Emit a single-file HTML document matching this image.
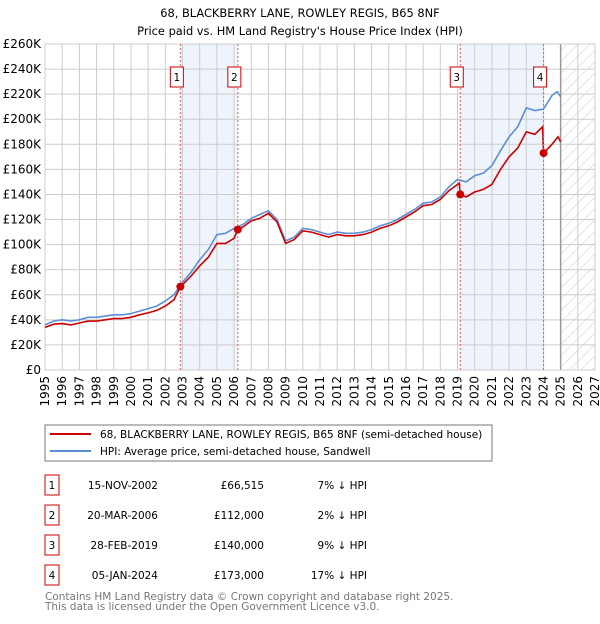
<!DOCTYPE html>
<html><head><meta charset="utf-8"><style>
body{margin:0;background:#fff;font-family:"DejaVu Sans","Liberation Sans",sans-serif;}
svg text{font-family:"DejaVu Sans","Liberation Sans",sans-serif;}
</style></head><body>
<svg id="chart" width="600" height="620" xmlns="http://www.w3.org/2000/svg">
<defs><pattern id="hatch" width="8" height="8" patternUnits="userSpaceOnUse" patternTransform="rotate(45)"><line x1="0" y1="0" x2="0" y2="8" stroke="#ccc" stroke-width="1"/></pattern></defs>
<text x="300" y="17" text-anchor="middle" font-size="11.4">68, BLACKBERRY LANE, ROWLEY REGIS, B65 8NF</text>
<text x="300" y="35" text-anchor="middle" font-size="11.4">Price paid vs. HM Land Registry's House Price Index (HPI)</text>
<g id="shades"></g><g id="grid"></g><g id="axes"></g><g id="series"></g><g id="markers"></g>
<rect x="45" y="425" width="447" height="36" fill="#fff" stroke="#777"/>
<line x1="50" y1="434" x2="91" y2="434" stroke="#cc0000" stroke-width="2"/>
<text x="100" y="438" font-size="10.5">68, BLACKBERRY LANE, ROWLEY REGIS, B65 8NF (semi-detached house)</text>
<line x1="50" y1="451" x2="91" y2="451" stroke="#5b8fd4" stroke-width="2"/>
<text x="100" y="455" font-size="10.5">HPI: Average price, semi-detached house, Sandwell</text>
<g id="table"></g>
<text x="45" y="600" font-size="10.5" fill="#777">Contains HM Land Registry data © Crown copyright and database right 2025.</text>
<text x="45" y="610" font-size="10.5" fill="#777">This data is licensed under the Open Government Licence v3.0.</text>
</svg>
<script>
const hpiYears=[1995,1995.5,1996,1996.5,1997,1997.5,1998,1998.5,1999,1999.5,2000,2000.5,2001,2001.5,2002,2002.5,2003,2003.5,2004,2004.5,2005,2005.5,2006,2006.5,2007,2007.5,2008,2008.5,2009,2009.5,2010,2010.5,2011,2011.5,2012,2012.5,2013,2013.5,2014,2014.5,2015,2015.5,2016,2016.5,2017,2017.5,2018,2018.5,2019,2019.5,2020,2020.5,2021,2021.5,2022,2022.5,2023,2023.5,2024,2024.5,2024.8,2025];
const hpiValues=[36,39,40,39,40,42,42,43,44,44,45,47,49,51,55,60,70,78,88,96,108,109,113,116,121,124,127,120,103,106,113,112,110,108,110,109,109,110,112,115,117,120,124,128,133,134,138,146,152,150,155,157,163,175,186,194,209,207,208,219,222,218];
const priceYears=[1995,1995.5,1996,1996.5,1997,1997.5,1998,1998.5,1999,1999.5,2000,2000.5,2001,2001.5,2002,2002.5,2002.875,2003,2003.5,2004,2004.5,2005,2005.5,2006,2006.22,2006.5,2007,2007.5,2008,2008.5,2009,2009.5,2010,2010.5,2011,2011.5,2012,2012.5,2013,2013.5,2014,2014.5,2015,2015.5,2016,2016.5,2017,2017.5,2018,2018.5,2019.1,2019.16,2019.5,2020,2020.5,2021,2021.5,2022,2022.5,2023,2023.5,2023.95,2024.01,2024.5,2024.85,2025];
const priceValues=[34,36.5,37,36,37.5,39,39,40,41,41,42,44,45.5,47.5,51,56,66.5,68,75,83,90,101,101,105,112,114,119,121,125,118,101,104,111,110,108,106,108,107,107,108,110,113,115,118,122,126,131,132,136,143,149,140,138,142,144,148,160,170,177,190,188,194,173,180,186,182];
const saleYears=[2002.875,2006.22,2019.16,2024.01];
const salePrices=[66.5,112,140,173];
const saleLabels=["1","2","3","4"];
const saleDates=["15-NOV-2002","20-MAR-2006","28-FEB-2019","05-JAN-2024"];
const salePriceText=["£66,515","£112,000","£140,000","£173,000"];
const saleDiff=["7% ↓ HPI","2% ↓ HPI","9% ↓ HPI","17% ↓ HPI"];
const yTicks=[0,20,40,60,80,100,120,140,160,180,200,220,240,260];
const xTicks=[1995,1996,1997,1998,1999,2000,2001,2002,2003,2004,2005,2006,2007,2008,2009,2010,2011,2012,2013,2014,2015,2016,2017,2018,2019,2020,2021,2022,2023,2024,2025,2026,2027];
const NS="http://www.w3.org/2000/svg";
const L=45,R=595,T=44,B=370;
function sx(y){return L+(y-1995)*(R-L)/32;}
function sy(v){return B-v*(B-T)/260;}
function mk(tag,attrs,parent){const e=document.createElementNS(NS,tag);for(const k in attrs)e.setAttribute(k,attrs[k]);document.getElementById(parent).appendChild(e);return e;}
for(let i=0;i<4;i+=2){
 const r=mk('rect',{x:sx(saleYears[i]),y:T,width:sx(saleYears[i+1])-sx(saleYears[i]),height:B-T,fill:'#eef3fc'},'shades');
 
 
}
const h=mk('rect',{x:sx(2025),y:T,width:R-sx(2025),height:B-T,fill:'url(#hatch)'},'shades');


yTicks.forEach(v=>{
 const g=mk('line',{x1:L,x2:R,y1:sy(v),y2:sy(v),stroke:'#ccc'},'grid');
 
 
 const t=mk('text',{x:L-4,y:sy(v)+4,'text-anchor':'end','font-size':'12'},'axes');
 t.textContent=v===0?'£0':'£'+v+'K';
 
 
});
xTicks.forEach(y=>{
 const g=mk('line',{x1:sx(y),x2:sx(y),y1:T,y2:B,stroke:'#ccc'},'grid');
 
 
 const t=mk('text',{x:0,y:0,'text-anchor':'end','font-size':'12',transform:`translate(${sx(y)+4},${B+6}) rotate(-90)`},'axes');
 t.textContent=y;
 
 
});
const nl=mk('line',{x1:sx(2025),x2:sx(2025),y1:T,y2:B,stroke:'#999','stroke-width':1.5},'grid');


function path(xs,vs){return xs.map((x,i)=>(i?'L':'M')+sx(x).toFixed(1)+','+sy(vs[i]).toFixed(1)).join('');}
const hp=mk('path',{d:path(hpiYears,hpiValues),fill:'none',stroke:'#5b8fd4','stroke-width':1.6},'series');


const pp=mk('path',{d:path(priceYears,priceValues),fill:'none',stroke:'#cc0000','stroke-width':1.6},'series');


saleYears.forEach((y,i)=>{
 const v=mk('line',{x1:sx(y),x2:sx(y),y1:T,y2:B,stroke:'#e06060','stroke-dasharray':'2,2'},'markers');
 
 
 const c=mk('circle',{cx:sx(y),cy:sy(salePrices[i]),r:4,fill:'#cc0000'},'markers');
 
 
 const b=mk('rect',{x:sx(y)-10,y:67,width:13,height:20,fill:'#fff',stroke:'#cc0000'},'markers');
 
 
 const t=mk('text',{x:sx(y)-3.5,y:81,'text-anchor':'middle','font-size':'10.5'},'markers');
 t.textContent=saleLabels[i];
 
 
 const cy=485+i*30;
 const tb=mk('rect',{x:45,y:cy-10,width:14,height:20,fill:'#fff',stroke:'#cc0000'},'table');
 
 
 const tn=mk('text',{x:52,y:cy+4,'text-anchor':'middle','font-size':'10.5'},'table');
 tn.textContent=saleLabels[i];
 
 
 const td=mk('text',{x:158,y:cy+4,'text-anchor':'end','font-size':'10.5'},'table');
 td.textContent=saleDates[i];
 
 
 const tp=mk('text',{x:264,y:cy+4,'text-anchor':'end','font-size':'10.5'},'table');
 tp.textContent=salePriceText[i];
 
 
 const tq=mk('text',{x:367,y:cy+4,'text-anchor':'end','font-size':'10.5'},'table');
 tq.textContent=saleDiff[i];
 
 
});
const fr=mk('rect',{x:L,y:T,width:R-L,height:B-T,fill:'none',stroke:'#ccc'},'axes');


</script>
</body></html>
